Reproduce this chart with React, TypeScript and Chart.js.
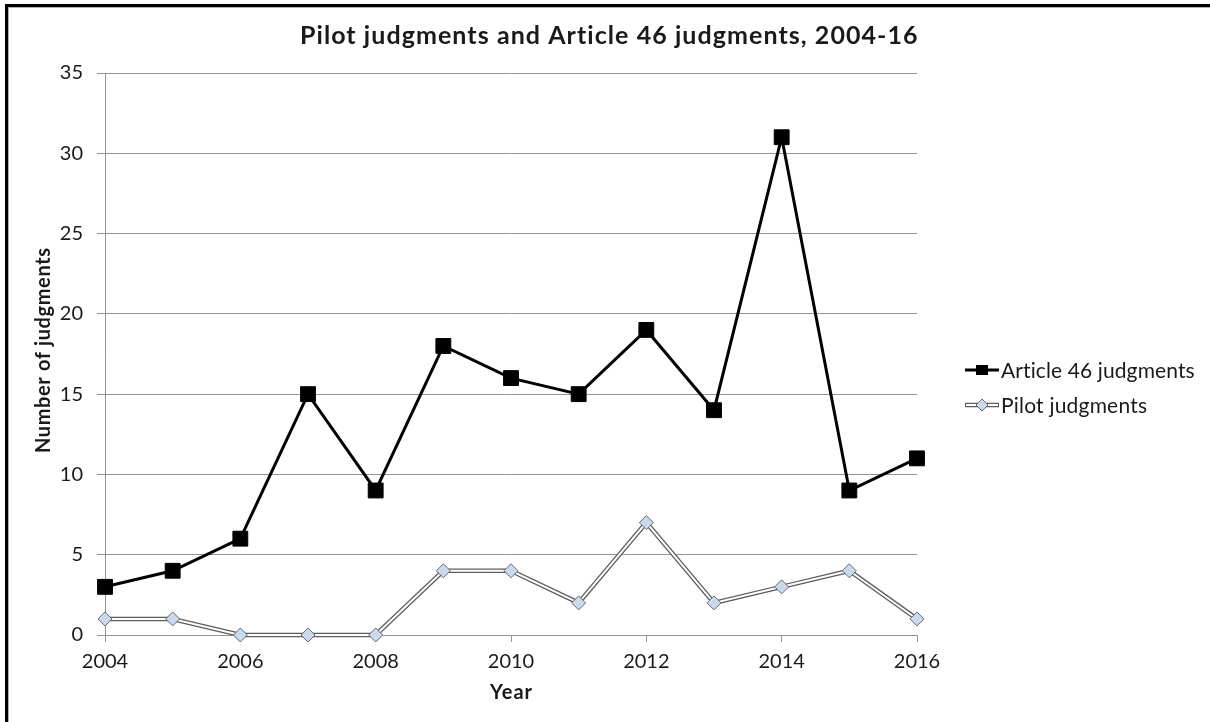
import React, { useEffect, useRef } from "react";
import { Chart, registerables } from "chart.js";

Chart.register(...registerables);

const years = ["2004", "2005", "2006", "2007", "2008", "2009", "2010", "2011", "2012", "2013", "2014", "2015", "2016"];
const article46 = [3, 4, 6, 15, 9, 18, 16, 15, 19, 14, 31, 9, 11];
const pilot = [1, 1, 0, 0, 0, 4, 4, 2, 7, 2, 3, 4, 1];
const seriesNames = ["Article 46 judgments", "Pilot judgments"];
const chartTitle = "Pilot judgments and Article 46 judgments, 2004-16";
const xAxisTitle = "Year";
const yAxisTitle = "Number of judgments";
const yMin = 0;
const yMax = 35;
const yStep = 5;

const FONT = "Lato, 'Open Sans', sans-serif";
const TEXT = "#1a1a1a";
const GRID = "#959595";
const PILOT_OUTER = "#5c5c5c";
const PILOT_FILL = "#c9d9ee";
const PILOT_EDGE = "#6a6a6a";

// draw text stretched (via letter spacing) to a given width, left edge at x
function drawFitted(ctx: CanvasRenderingContext2D, text: string, x: number, y: number, width: number) {
  const anyCtx = ctx as any;
  anyCtx.letterSpacing = "0px";
  ctx.textAlign = "left";
  const w = ctx.measureText(text).width;
  const ls = text.length > 1 ? (width - w) / (text.length - 1) : 0;
  anyCtx.letterSpacing = `${ls}px`;
  ctx.fillText(text, x, y);
  anyCtx.letterSpacing = "0px";
}

const decor = {
  id: "decor",
  beforeDraw(chart: any) {
    const ctx = chart.ctx as CanvasRenderingContext2D;
    ctx.save();
    ctx.fillStyle = "#fff";
    ctx.fillRect(0, 0, chart.width, chart.height);
    ctx.fillStyle = "#000";
    ctx.fillRect(5, 4, 3, chart.height);
    ctx.fillRect(5, 4, chart.width, 3);
    ctx.fillStyle = "#b0b0b0";
    ctx.fillRect(8, 7, chart.width, 1);
    ctx.fillRect(8, 7, 1, chart.height);
    ctx.restore();
  },
  afterDraw(chart: any) {
    const ctx = chart.ctx as CanvasRenderingContext2D;
    const area = chart.chartArea;
    ctx.save();
    ctx.fillStyle = TEXT;
    ctx.textBaseline = "middle";
    // title
    ctx.font = `bold 25px ${FONT}`;
    drawFitted(ctx, chartTitle, 300, 36, 618);
    // x title
    ctx.font = `bold 20px ${FONT}`;
    const cxp = (area.left + area.right) / 2;
    drawFitted(ctx, xAxisTitle, cxp - 21, 693, 42);
    // y title
    ctx.save();
    ctx.translate(44, 350);
    ctx.rotate(-Math.PI / 2);
    drawFitted(ctx, yAxisTitle, -103, 0, 205);
    ctx.restore();

    // legend
    const lx0 = 965;
    const lx1 = 999;
    const cx = (lx0 + lx1) / 2;
    const rows = [370, 405];
    ctx.font = `21px ${FONT}`;
    ctx.strokeStyle = "#000";
    ctx.lineWidth = 3;
    ctx.beginPath();
    ctx.moveTo(lx0, rows[0]);
    ctx.lineTo(lx1, rows[0]);
    ctx.stroke();
    ctx.fillStyle = "#000";
    ctx.fillRect(cx - 6, rows[0] - 5, 12, 10);
    ctx.fillStyle = TEXT;
    drawFitted(ctx, seriesNames[0], 1001, rows[0] + 1, 194);
    ctx.strokeStyle = PILOT_OUTER;
    ctx.lineWidth = 4.5;
    ctx.beginPath();
    ctx.moveTo(lx0, rows[1]);
    ctx.lineTo(lx1, rows[1]);
    ctx.stroke();
    ctx.strokeStyle = "#fff";
    ctx.lineWidth = 2;
    ctx.beginPath();
    ctx.moveTo(lx0 + 1, rows[1]);
    ctx.lineTo(lx1 - 1, rows[1]);
    ctx.stroke();
    ctx.beginPath();
    ctx.moveTo(cx - 6, rows[1]);
    ctx.lineTo(cx, rows[1] - 6);
    ctx.lineTo(cx + 6, rows[1]);
    ctx.lineTo(cx, rows[1] + 6);
    ctx.closePath();
    ctx.fillStyle = PILOT_FILL;
    ctx.fill();
    ctx.strokeStyle = PILOT_EDGE;
    ctx.lineWidth = 1;
    ctx.stroke();
    ctx.fillStyle = TEXT;
    drawFitted(ctx, seriesNames[1], 1001, rows[1] + 1, 146);
    ctx.restore();
  },
};

export default function App() {
  const ref = useRef<HTMLCanvasElement | null>(null);

  useEffect(() => {
    if (!ref.current) return;
    const chart = new Chart(ref.current, {
      type: "line",
      data: {
        labels: years,
        datasets: [
          {
            label: seriesNames[0],
            data: article46,
            borderColor: "#000",
            borderWidth: 3,
            pointStyle: "rect",
            pointRadius: 10.5,
            pointBackgroundColor: "#000",
            pointBorderColor: "#000",
            pointBorderWidth: 1,
            tension: 0,
            clip: false,
            order: 1,
          },
          {
            label: seriesNames[1] + " outline",
            data: pilot,
            borderColor: PILOT_OUTER,
            borderWidth: 4.5,
            pointRadius: 0,
            tension: 0,
            clip: false,
            order: 3,
          },
          {
            label: seriesNames[1],
            data: pilot,
            borderColor: "#fff",
            borderWidth: 2,
            pointStyle: "rectRot",
            pointRadius: 7,
            pointBackgroundColor: PILOT_FILL,
            pointBorderColor: PILOT_EDGE,
            pointBorderWidth: 1,
            tension: 0,
            clip: false,
            order: 2,
          },
        ],
      },
      options: {
        responsive: false,
        devicePixelRatio: 1,
        animation: false,
        events: [],
        layout: { padding: { top: 73, right: 293, bottom: 0, left: 0 } },
        plugins: {
          legend: { display: false },
          title: { display: false },
          tooltip: { enabled: false },
        },
        scales: {
          x: {
            type: "category",
            offset: false,
            afterFit: (s: any) => {
              s.height = 87;
            },
            grid: {
              drawOnChartArea: false,
              drawTicks: true,
              tickLength: 7,
              tickColor: (c: any) => (c.index % 2 === 0 ? GRID : "rgba(0,0,0,0)"),
            },
            border: { color: GRID, width: 1 },
            ticks: {
              autoSkip: false,
              maxRotation: 0,
              padding: 8,
              color: TEXT,
              font: { family: FONT, size: 20 },
              callback: (_v: any, i: number) => (i % 2 === 0 ? years[i] : ""),
            },
          },
          y: {
            min: yMin,
            max: yMax,
            afterFit: (s: any) => {
              s.width = 105;
            },
            grid: { color: GRID, tickLength: 8, lineWidth: 1 },
            border: { color: GRID, width: 1 },
            ticks: {
              stepSize: yStep,
              padding: 14,
              color: TEXT,
              font: { family: FONT, size: 20 },
            },
          },
        },
      },
      plugins: [decor],
    });
    return () => chart.destroy();
  }, []);

  return (
    <div style={{ position: "absolute", left: 0, top: 0, width: 1210, height: 722, background: "#fff" }}>
      <canvas ref={ref} width={1210} height={722} style={{ display: "block" }} />
    </div>
  );
}
